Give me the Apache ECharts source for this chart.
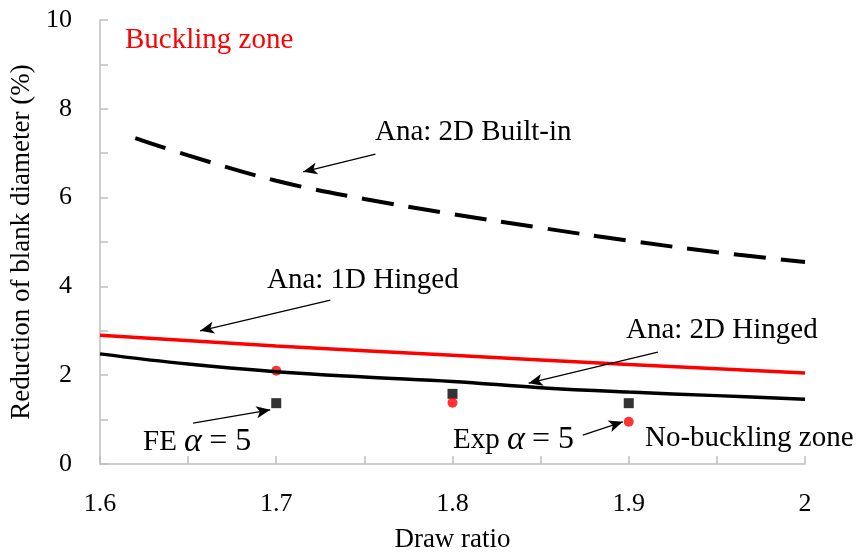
<!DOCTYPE html>
<html>
<head>
<meta charset="utf-8">
<script src="https://cdn.jsdelivr.net/npm/echarts@6/dist/echarts.min.js"></script>
<style>
  html, body { margin: 0; padding: 0; background: #fff; }
  #chart { width: 860px; height: 554px; }
</style>
</head>
<body>
<div id="chart"></div>
<script>
// data
var builtInX = [1.62, 1.65, 1.7, 1.75, 1.8, 1.85, 1.9, 1.95, 2.0];
var builtInY = [7.34, 6.95, 6.38, 5.97, 5.63, 5.32, 5.03, 4.77, 4.55];

var hinged1dX = [1.6, 1.7, 1.8, 1.9, 2.0];
var hinged1dY = [2.9, 2.66, 2.45, 2.24, 2.05];

var hinged2dX = [1.6, 1.65, 1.7, 1.75, 1.8, 1.85, 1.9, 1.95, 2.0];
var hinged2dY = [2.48, 2.25, 2.08, 1.96, 1.86, 1.72, 1.62, 1.54, 1.46];

var feX = [1.7, 1.8, 1.9];
var feY = [1.37, 1.58, 1.37];

var expX = [1.7, 1.8, 1.9];
var expY = [2.1, 1.38, 0.95];

// arrows: [fromX, fromY, toX, toY] in data units
var arrows = [
  [1.7563, 6.98, 1.7153, 6.58],
  [1.7307, 3.69, 1.6568, 3.00],
  [1.9165, 2.52, 1.8432, 1.82],
  [1.6528, 0.92, 1.6966, 1.22],
  [1.8739, 0.65, 1.8966, 0.95]
];

var serif = '"Liberation Serif", "Times New Roman", serif';

function pairs(xs, ys) {
  var out = [];
  for (var i = 0; i < xs.length; i++) out.push([xs[i], ys[i]]);
  return out;
}

var arrowData = [];
for (var k = 0; k < arrows.length; k++) {
  var a = arrows[k];
  arrowData.push([
    { coord: [a[0], a[1]], symbol: 'none' },
    { coord: [a[2], a[3]], symbol: 'arrow' }
  ]);
}

var chart = echarts.init(document.getElementById('chart'));

function annot(x, y, text, color, rich) {
  return {
    type: 'text',
    left: x,
    top: y,
    style: {
      text: text,
      fill: color || '#000',
      fontFamily: serif,
      fontSize: 29,
      rich: rich || {}
    },
    z: 100
  };
}

var alphaRich = {
  a: { fontFamily: serif, fontStyle: 'italic', fontSize: 34, fill: '#000' },
  m: { fontFamily: serif, fontSize: 32, fill: '#000' }
};

option = {
  backgroundColor: '#fff',
  animation: false,
  grid: { left: 100, right: 55, top: 20, bottom: 90, outerBoundsMode: 'none', containLabel: false },
  xAxis: {
    type: 'value',
    min: 1.6,
    max: 2,
    interval: 0.05,
    name: 'Draw ratio',
    nameLocation: 'middle',
    nameGap: 62,
    nameTextStyle: { fontFamily: serif, fontSize: 27, color: '#000' },
    axisLine: { lineStyle: { color: '#bfbfbf', width: 1.5 } },
    axisTick: { inside: true, length: 8, lineStyle: { color: '#bfbfbf', width: 1.5 } },
    splitLine: { show: false },
    axisLabel: {
      fontFamily: serif, fontSize: 26, color: '#000', margin: 27,
      formatter: function (v) {
        if (Math.round(v * 20) % 2 !== 0) return '';
        return String(Number(v.toFixed(1)));
      }
    }
  },
  yAxis: {
    type: 'value',
    min: 0,
    max: 10,
    interval: 1,
    name: 'Reduction of blank diameter (%)',
    nameLocation: 'middle',
    nameGap: 58,
    nameTextStyle: { fontFamily: serif, fontSize: 27, color: '#000' },
    axisLine: { show: true, lineStyle: { color: '#bfbfbf', width: 1.5 } },
    axisTick: { show: true, inside: true, length: 8, lineStyle: { color: '#bfbfbf', width: 1.5 } },
    splitLine: { show: false },
    axisLabel: {
      fontFamily: serif, fontSize: 26, color: '#000', margin: 28,
      formatter: function (v) {
        return (Math.round(v) % 2 === 0) ? String(v) : '';
      }
    }
  },
  series: [
    {
      name: 'Ana: 2D Built-in',
      type: 'line',
      data: pairs(builtInX, builtInY),
      smooth: 0.4,
      showSymbol: false,
      lineStyle: { color: '#000', width: 4, type: [32, 15] }
    },
    {
      name: 'Ana: 1D Hinged',
      type: 'line',
      data: pairs(hinged1dX, hinged1dY),
      smooth: 0.4,
      showSymbol: false,
      lineStyle: { color: '#ff0000', width: 3.5 }
    },
    {
      name: 'Ana: 2D Hinged',
      type: 'line',
      data: pairs(hinged2dX, hinged2dY),
      smooth: 0.4,
      showSymbol: false,
      lineStyle: { color: '#000', width: 3.5 },
      markLine: {
        silent: true,
        symbolSize: [9, 14],
        label: { show: false },
        lineStyle: { color: '#000', width: 1.3, type: 'solid' },
        data: arrowData
      }
    },
    {
      name: 'FE',
      type: 'scatter',
      data: pairs(feX, feY),
      symbol: 'rect',
      symbolSize: 10,
      itemStyle: { color: '#000' }
    },
    {
      name: 'Exp',
      type: 'scatter',
      data: pairs(expX, expY),
      symbol: 'circle',
      symbolSize: 10,
      itemStyle: { color: '#ff0000' }
    }
  ],
  graphic: [
    annot(125, 26, 'Buckling zone', '#ff0000'),
    annot(375, 118, 'Ana: 2D Built-in'),
    annot(267, 266, 'Ana: 1D Hinged'),
    annot(626, 316, 'Ana: 2D Hinged'),
    annot(143, 425, 'FE {a|α} {m|= 5}', '#000', alphaRich),
    annot(453, 423, 'Exp {a|α} {m|= 5}', '#000', alphaRich),
    annot(645, 424, 'No-buckling zone')
  ]
};

chart.setOption(option);
</script>
</body>
</html>
